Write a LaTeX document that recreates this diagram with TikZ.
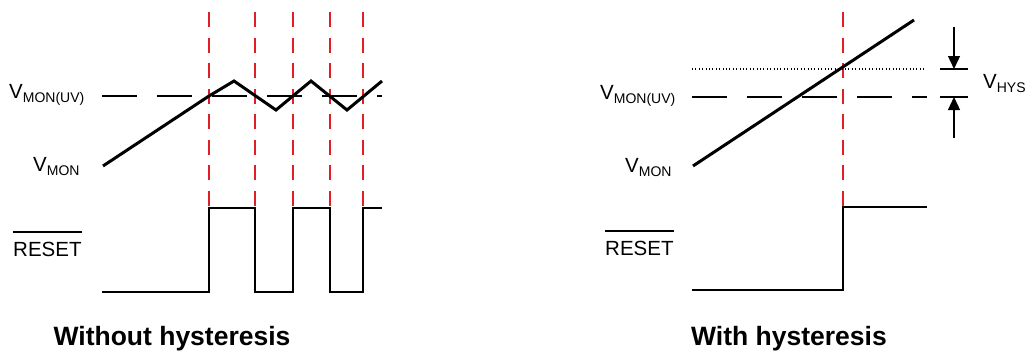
\documentclass[tikz,border=0pt]{standalone}
\usepackage{fontspec}
\setmainfont{Liberation Sans}
\usetikzlibrary{arrows.meta}
\definecolor{redline}{RGB}{225,30,40}
\newcommand\vlbl[2]{{\fontsize{20.5}{24}\selectfont #1\raisebox{-4pt}{\fontsize{14}{16}\selectfont #2}}}
\begin{document}
\begin{tikzpicture}[x=1pt,y=-1pt,
  wave/.style={line width=3pt,line join=miter},
  sig/.style={line width=1.5pt},
  thresh/.style={line width=1.6pt,dash pattern=on 35pt off 20pt},
  hys/.style={line width=1.2pt,dash pattern=on 1pt off 2.4pt},
  redv/.style={redline,line width=1.6pt,dash pattern=on 15pt off 10.5pt},
  lbl/.style={anchor=base west,inner sep=0pt},
  ttl/.style={anchor=base,inner sep=0pt,font=\bfseries\fontsize{26.5}{30}\selectfont},
  dim/.style={line width=1.3pt,-{Triangle[length=13pt,width=12pt]}},
  tick/.style={line width=1.5pt}]
\useasboundingbox (0,0) rectangle (1028,351);

% ---------- Left: without hysteresis ----------
\foreach \x/\n in {209/a,255/b,293/c,330/d,363/e}{
  \coordinate (L\n top) at (\x,12);
  \coordinate (L\n bot) at (\x,207);
  \draw[redv] (L\n top) -- (L\n bot);
}
\coordinate (Lth1) at (102,96);
\coordinate (Lth2) at (382,96);
\draw[thresh] (Lth1) -- (Lth2);
\draw[wave] (103,166) -- (209,96) -- (234,81) -- (276,110) -- (311,81) -- (347,110) -- (382,81);
\draw[sig] (102,292) -- (209,292) -- (209,208) -- (255,208) -- (255,292) -- (293,292) -- (293,208)
  -- (330,208) -- (330,292) -- (363,292) -- (363,208) -- (382,208);

\node[lbl] (L1) at (9,98) {\vlbl{V}{MON(UV)}};
\node[lbl] (L2) at (33,171) {\vlbl{V}{MON}};
\node[lbl,font=\fontsize{20.5}{24}\selectfont] (L3) at (13,256) {RESET};
\draw[line width=1.4pt] ([yshift=9.5pt]L3.north west) -- ([yshift=9.5pt]L3.north east);
\node[ttl] (T1) at (172,345) {Without hysteresis};

% ---------- Right: with hysteresis ----------
\coordinate (Rtop) at (843,12);
\coordinate (Rbot) at (843,207);
\draw[redv] (Rtop) -- (Rbot);
\coordinate (Rd1) at (692,69);
\coordinate (Rd2) at (925,69);
\draw[hys] (Rd1) -- (Rd2);
\coordinate (Rt1) at (692,97);
\coordinate (Rt2) at (927,97);
\draw[thresh] (Rt1) -- (Rt2);
\draw[wave] (693,166) -- (914,20);
\draw[sig] (692,290) -- (843,290) -- (843,207) -- (927,207);

\coordinate (tk1a) at (940,69); \coordinate (tk1b) at (968,69);
\coordinate (tk2a) at (940,97); \coordinate (tk2b) at (968,97);
\draw[tick] (tk1a) -- (tk1b);
\draw[tick] (tk2a) -- (tk2b);
\coordinate (ar1s) at (954,27); \coordinate (ar1e) at (954,69);
\coordinate (ar2s) at (954,138); \coordinate (ar2e) at (954,97);
\draw[dim] (ar1s) -- (ar1e);
\draw[dim] (ar2s) -- (ar2e);

\node[lbl] (R1) at (600,99) {\vlbl{V}{MON(UV)}};
\node[lbl] (R2) at (625,172) {\vlbl{V}{MON}};
\node[lbl] (R4) at (983,88) {\vlbl{V}{HYS}};
\node[lbl,font=\fontsize{20.5}{24}\selectfont] (R3) at (605,255) {RESET};
\draw[line width=1.4pt] ([yshift=9.5pt]R3.north west) -- ([yshift=9.5pt]R3.north east);
\node[ttl] (T2) at (789,345) {With hysteresis};
\end{tikzpicture}
\end{document}
